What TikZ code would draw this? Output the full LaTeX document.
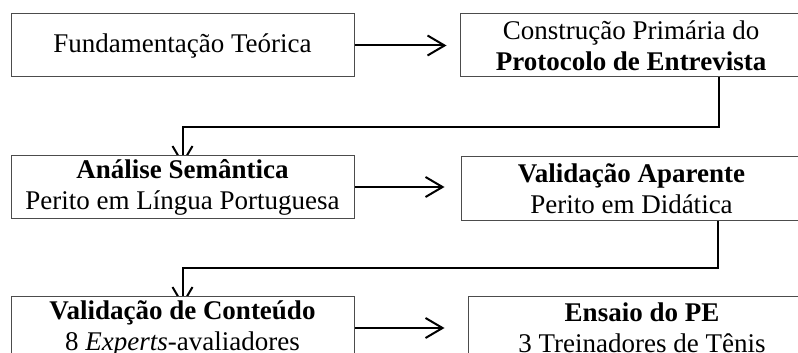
\documentclass[tikz,border=0pt]{standalone}
\usepackage{fontspec}
\setmainfont{Liberation Serif}
\usetikzlibrary{arrows.meta,calc}
\pgfdeclarelayer{bg}
\pgfsetlayers{bg,main}
\begin{document}
\begin{tikzpicture}[x=0.5pt,y=-0.5pt,
  box/.style={draw=black!70,line width=0.5pt,fill=white,inner sep=0pt,align=center,
    font=\fontsize{13.5}{15.5}\selectfont,minimum height=31.5pt},
  conn/.style={line width=1pt,-{Straight Barb[length=8.5pt,width=10pt]}}]
\useasboundingbox (0,0) rectangle (798,353);
\begin{pgfonlayer}{bg}
\fill[white] (0,0) rectangle (798,353);
\end{pgfonlayer}
\begin{scope}
\clip (0,0) rectangle (798,353);
\node[box,minimum width=171.5pt] (b1) at (182.5,45.5) {Fundamentação Teórica};
\node[box,minimum width=171pt] (b2) at (631,45.5) {Construção Primária do\\\textbf{Protocolo de Entrevista}};
\node[box,minimum width=171.5pt] (b3) at (182.5,187) {\textbf{Análise Semântica}\\Perito em Língua Portuguesa};
\node[box,minimum width=170.5pt] (b4) at (631.5,188.5) {\textbf{Validação Aparente}\\Perito em Didática};
\node[box,minimum width=171.5pt] (b5) at (182.5,328) {\textbf{Validação de Conteúdo}\\8 \textit{Experts}-avaliadores};
\node[box,minimum width=174pt] (b6) at (642,328) {\textbf{Ensaio do PE}\\3 Treinadores de Tênis};
\end{scope}
\coordinate (c1) at (719,127);
\coordinate (c2) at (718,268);
\begin{pgfonlayer}{bg}
\draw[conn,shorten >=6.5pt] (b1.east) -- (b1.east -| b2.west);
\draw[conn,shorten >=-5pt] (b2.south -| c1) -- (c1) -- (c1 -| b3) -- (b3.north);
\draw[conn,shorten >=8pt] (b3.east) -- (b3.east -| b4.west);
\draw[conn,shorten >=-5pt] (b4.south -| c2) -- (c2) -- (c2 -| b5) -- (b5.north);
\draw[conn,shorten >=11.5pt] (b5.east) -- (b5.east -| b6.west);
\end{pgfonlayer}
\end{tikzpicture}
\end{document}
